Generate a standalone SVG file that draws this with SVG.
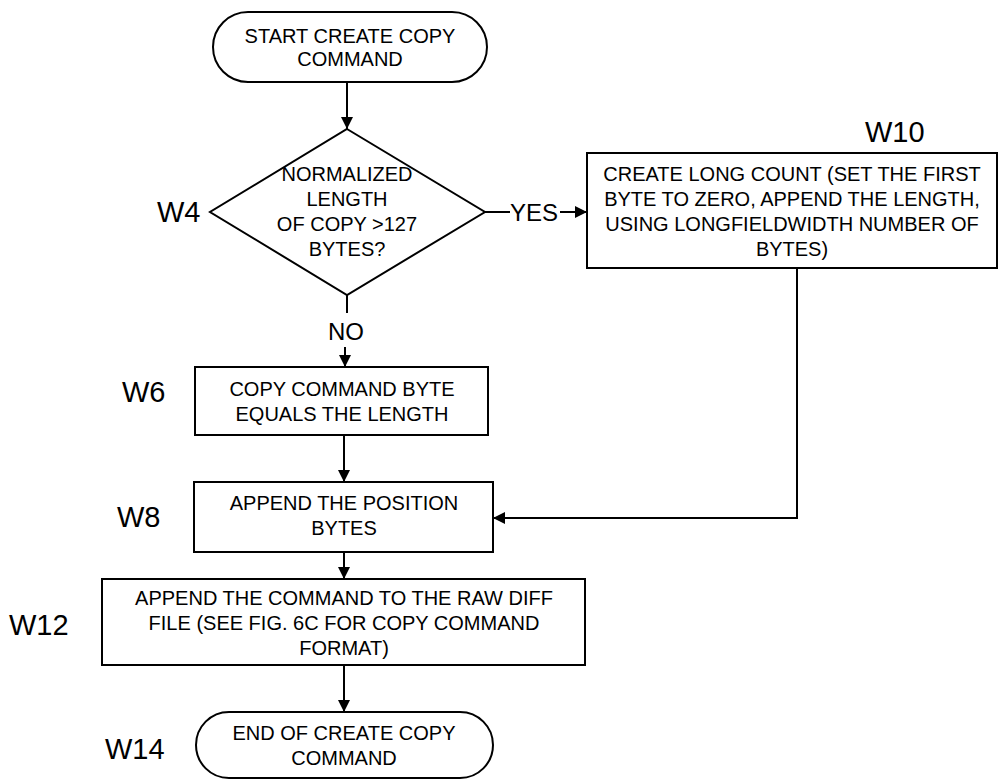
<svg xmlns="http://www.w3.org/2000/svg" width="999" height="781" viewBox="0 0 999 781">
  <style>
    .shape { fill: #fff; stroke: #000; stroke-width: 2; }
    .line { fill: none; stroke: #000; stroke-width: 2; }
    .t { font-family: "Liberation Sans", Arial, sans-serif; font-size: 20px; fill: #000; text-anchor: middle; }
    .lbl { font-family: "Liberation Sans", Arial, sans-serif; font-size: 29px; fill: #000; }
    .yn { font-family: "Liberation Sans", Arial, sans-serif; font-size: 24px; fill: #000; }
  </style>
  <defs>
    <marker id="arrow" viewBox="0 0 12 12" refX="12" refY="6" markerWidth="12" markerHeight="12" markerUnits="userSpaceOnUse" orient="auto">
      <path d="M0,0 L12,6 L0,12 Z" fill="#000"/>
    </marker>
  </defs>
  <rect width="999" height="781" fill="#fff"/>

  <!-- connectors -->
  <g id="connectors">
    <line class="line" x1="347" y1="82" x2="347" y2="129" marker-end="url(#arrow)"/>
    <line class="line" x1="485" y1="212" x2="510" y2="212"/>
    <text class="yn" x="510" y="221">YES</text>
    <line class="line" x1="560" y1="212" x2="587" y2="212" marker-end="url(#arrow)"/>
    <line class="line" x1="347" y1="295" x2="347" y2="313"/>
    <text class="yn" x="346" y="340" text-anchor="middle">NO</text>
    <line class="line" x1="345" y1="347" x2="345" y2="367" marker-end="url(#arrow)"/>
    <line class="line" x1="344" y1="435" x2="344" y2="482" marker-end="url(#arrow)"/>
    <polyline class="line" points="797,268 797,518 493,518" marker-end="url(#arrow)"/>
    <line class="line" x1="344" y1="552" x2="344" y2="579" marker-end="url(#arrow)"/>
    <line class="line" x1="344" y1="665" x2="344" y2="712" marker-end="url(#arrow)"/>
  </g>

  <!-- start -->
  <g id="start">
    <rect class="shape" x="213" y="12" width="274" height="70" rx="35" ry="35"/>
    <text class="t" x="350" y="43">START CREATE COPY</text>
    <text class="t" x="350" y="66">COMMAND</text>
  </g>

  <!-- W4 decision -->
  <g id="W4">
    <polygon class="shape" points="347,129 485,212 347,295 210,212"/>
    <text class="t" x="347" y="181">NORMALIZED</text>
    <text class="t" x="347" y="206">LENGTH</text>
    <text class="t" x="347" y="231">OF COPY &gt;127</text>
    <text class="t" x="347" y="256">BYTES?</text>
    <text class="lbl" x="157" y="222">W4</text>
  </g>

  <!-- W10 -->
  <g id="W10">
    <rect class="shape" x="587" y="153" width="410" height="115"/>
    <text class="t" x="792" y="181">CREATE LONG COUNT (SET THE FIRST</text>
    <text class="t" x="792" y="206">BYTE TO ZERO, APPEND THE LENGTH,</text>
    <text class="t" x="792" y="231">USING LONGFIELDWIDTH NUMBER OF</text>
    <text class="t" x="792" y="256">BYTES)</text>
    <text class="lbl" x="865" y="142">W10</text>
  </g>

  <!-- W6 -->
  <g id="W6">
    <rect class="shape" x="195" y="367" width="293" height="68"/>
    <text class="t" x="342" y="396">COPY COMMAND BYTE</text>
    <text class="t" x="342" y="421">EQUALS THE LENGTH</text>
    <text class="lbl" x="122" y="402">W6</text>
  </g>

  <!-- W8 -->
  <g id="W8">
    <rect class="shape" x="194" y="482" width="299" height="70"/>
    <text class="t" x="344" y="510">APPEND THE POSITION</text>
    <text class="t" x="344" y="535">BYTES</text>
    <text class="lbl" x="117" y="527">W8</text>
  </g>

  <!-- W12 -->
  <g id="W12">
    <rect class="shape" x="102" y="579" width="483" height="86"/>
    <text class="t" x="344" y="605">APPEND THE COMMAND TO THE RAW DIFF</text>
    <text class="t" x="344" y="630">FILE (SEE FIG. 6C FOR COPY COMMAND</text>
    <text class="t" x="344" y="655">FORMAT)</text>
    <text class="lbl" x="9" y="635">W12</text>
  </g>

  <!-- W14 end -->
  <g id="W14">
    <rect class="shape" x="196" y="712" width="297" height="66" rx="33" ry="33"/>
    <text class="t" x="344" y="740">END OF CREATE COPY</text>
    <text class="t" x="344" y="765">COMMAND</text>
    <text class="lbl" x="105" y="759">W14</text>
  </g>
</svg>
